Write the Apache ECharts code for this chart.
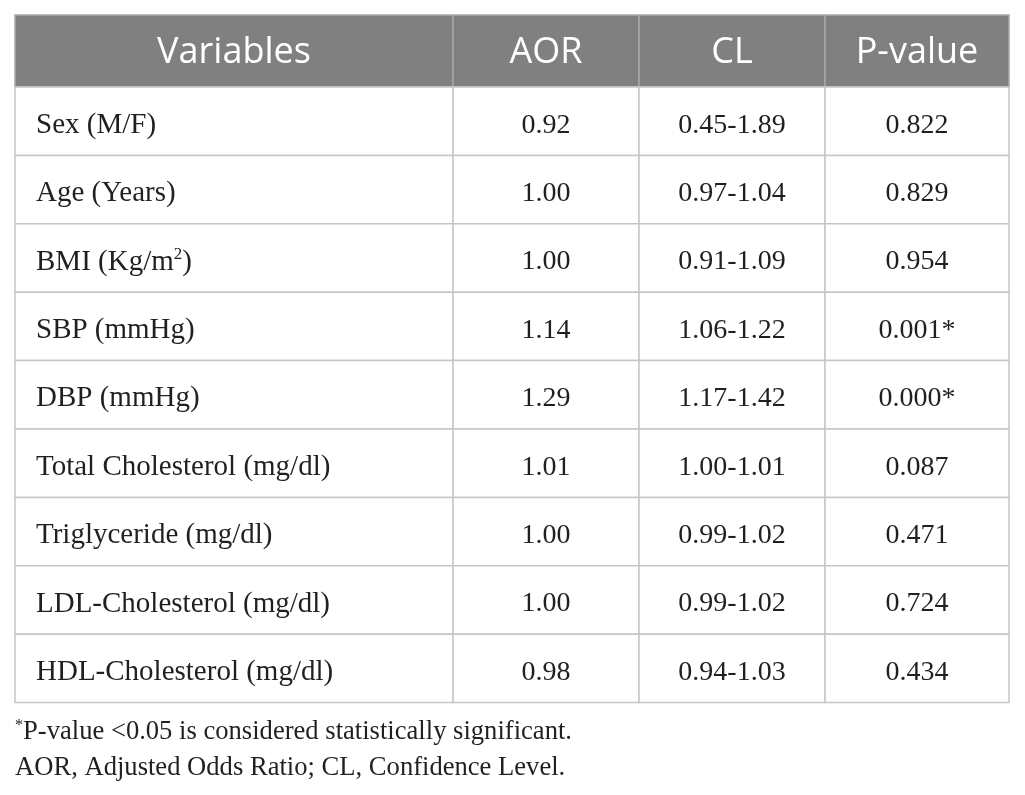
<!DOCTYPE html>
<html>
<head>
<meta charset="utf-8">
<script src="https://cdn.jsdelivr.net/npm/echarts@6/dist/echarts.min.js"></script>
<style>
html,body{margin:0;padding:0;background:#fff;}
#chart{width:1025px;height:795px;}
</style>
</head>
<body>
<div id="chart"></div>
<script>
// ---- data ----
const headers = ['Variables', 'AOR', 'CL', 'P-value'];
const variables = [
  'Sex (M/F)',
  'Age (Years)',
  'BMI (Kg/m{sup|2})',
  'SBP (mmHg)',
  'DBP (mmHg)',
  'Total Cholesterol (mg/dl)',
  'Triglyceride (mg/dl)',
  'LDL-Cholesterol (mg/dl)',
  'HDL-Cholesterol (mg/dl)'
];
const aor = ['0.92', '1.00', '1.00', '1.14', '1.29', '1.01', '1.00', '1.00', '0.98'];
const cl = ['0.45-1.89', '0.97-1.04', '0.91-1.09', '1.06-1.22', '1.17-1.42', '1.00-1.01', '0.99-1.02', '0.99-1.02', '0.94-1.03'];
const pValues = ['0.822', '0.829', '0.954', '0.001*', '0.000*', '0.087', '0.471', '0.724', '0.434'];
const footnotes = [
  '{sup|*}P-value <0.05 is considered statistically significant.',
  'AOR, Adjusted Odds Ratio; CL, Confidence Level.'
];

// ---- layout ----
const colWidths = [438, 186, 186, 184];
const headerH = 72;
const rowH = 68.4;
const colEdges = [0];
colWidths.forEach(w => colEdges.push(colEdges[colEdges.length - 1] + w));
const rowEdges = [0, headerH];
variables.forEach(() => rowEdges.push(rowEdges[rowEdges.length - 1] + rowH));
const totalW = colEdges[colEdges.length - 1];
const totalH = rowEdges[rowEdges.length - 1];

const columns = [variables, aor, cl, pValues];
const cells = [];
headers.forEach((h, c) => cells.push([c, 0]));
variables.forEach((v, r) => {
  for (let c = 0; c < 4; c++) cells.push([c, r + 1]);
});

const serif = '"Liberation Serif", "DejaVu Serif", serif';
const sans = '"Open Sans", "Noto Sans", sans-serif';
const labelSize = 29;
const numSize = 28;
const noteSize = 26.6;
const textColor = '#231f20';

const chart = echarts.init(document.getElementById('chart'), null, {renderer: 'canvas'});
chart.setOption({
  backgroundColor: '#ffffff',
  animation: false,
  grid: {left: 15, top: 15, width: totalW, height: totalH},
  xAxis: {type: 'value', min: 0, max: totalW, show: false},
  yAxis: {type: 'value', min: 0, max: totalH, inverse: true, show: false},
  series: [{
    type: 'custom',
    coordinateSystem: 'cartesian2d',
    data: cells,
    renderItem: function (params, api) {
      const c = api.value(0), r = api.value(1);
      const p0 = api.coord([colEdges[c], rowEdges[r]]);
      const p1 = api.coord([colEdges[c + 1], rowEdges[r + 1]]);
      const isHeader = r === 0;
      const txt = isHeader ? headers[c] : columns[c][r - 1];
      const leftAlign = !isHeader && c === 0;
      const size = c === 0 ? labelSize : numSize;
      return {
        type: 'group',
        children: [{
          type: 'rect',
          shape: {x: p0[0], y: p0[1], width: p1[0] - p0[0], height: p1[1] - p0[1]},
          style: {
            fill: isHeader ? '#7f807f' : '#ffffff',
            stroke: isHeader ? '#a8a8a8' : '#c6c6c6',
            lineWidth: 1.5
          }
        }, {
          type: 'text',
          x: leftAlign ? p0[0] + 21 : (p0[0] + p1[0]) / 2,
          y: (p0[1] + p1[1]) / 2 + (isHeader ? 2 : 4),
          style: {
            text: txt,
            fill: isHeader ? '#ffffff' : textColor,
            font: isHeader ? ('36px ' + sans) : (size + 'px ' + serif),
            align: leftAlign ? 'left' : 'center',
            verticalAlign: 'middle',
            rich: {
              sup: {fontSize: 17, fontFamily: serif, verticalAlign: 'top', padding: [0, 0, 14, 0], fill: textColor}
            }
          }
        }]
      };
    }
  }],
  graphic: footnotes.map((t, i) => ({
    type: 'text',
    left: 15,
    top: 718 + i * 37,
    style: {
      text: t,
      fill: textColor,
      font: noteSize + 'px ' + serif,
      rich: {
        sup: {fontSize: 16, fontFamily: serif, verticalAlign: 'top', padding: [0, 0, 12, 0], fill: textColor}
      }
    }
  }))
});
</script>
</body>
</html>
